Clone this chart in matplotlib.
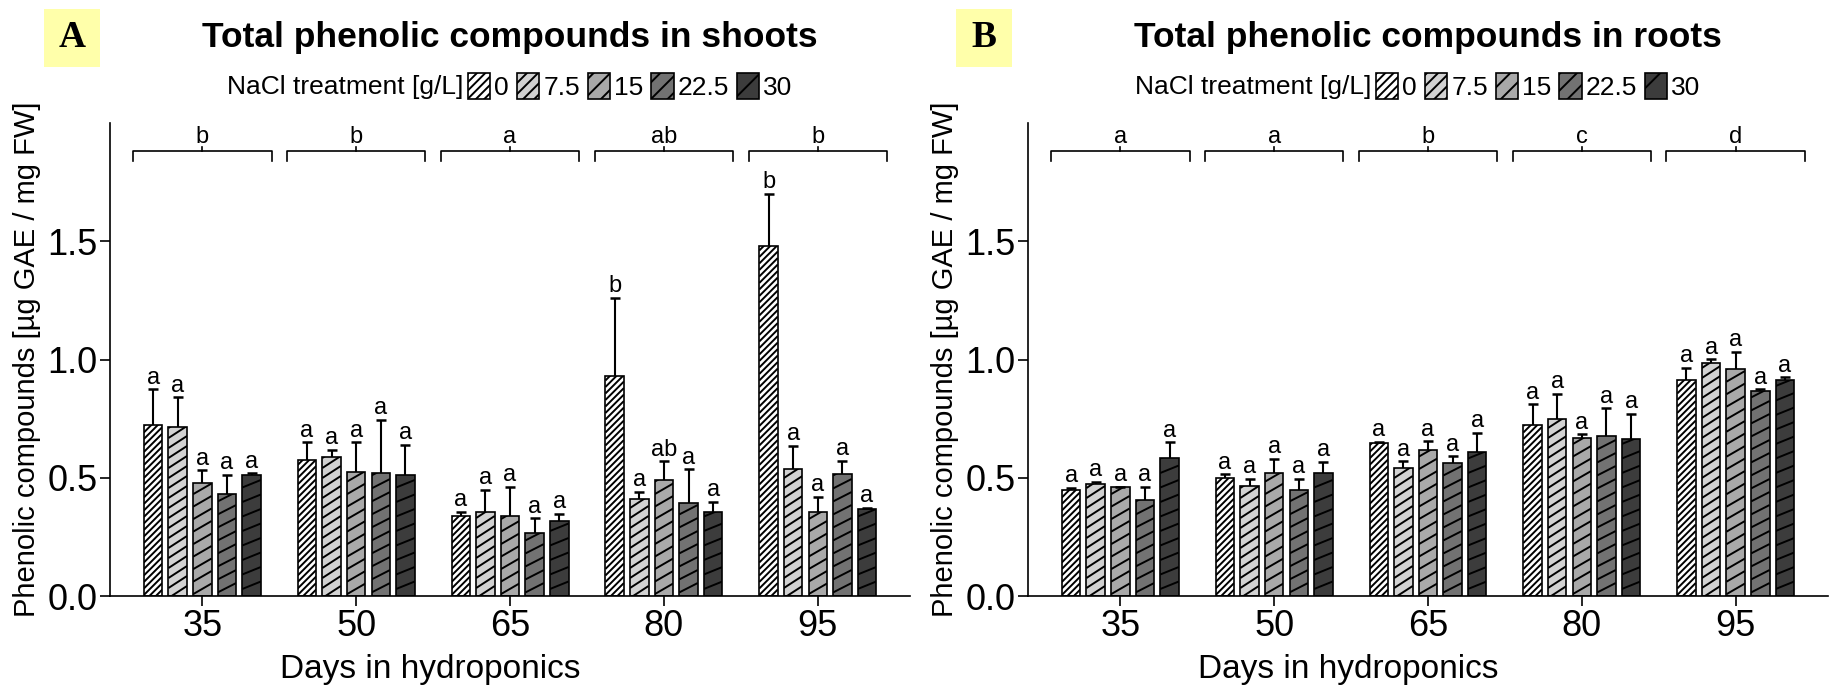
import numpy as np
import matplotlib.pyplot as plt
from matplotlib.patches import Rectangle
from matplotlib.collections import LineCollection

plt.rcParams['font.family'] = ['Liberation Sans', 'DejaVu Sans']
plt.rcParams['hatch.linewidth'] = 1.4

days = ["35", "50", "65", "80", "95"]
nacl = ["0", "7.5", "15", "22.5", "30"]

#? shoots: means and SD per NaCl level, over the five harvest days
shoot_mean = {
    "0":    [0.725, 0.576, 0.340, 0.930, 1.480],
    "7.5":  [0.713, 0.587, 0.357, 0.409, 0.536],
    "15":   [0.477, 0.525, 0.338, 0.491, 0.356],
    "22.5": [0.430, 0.522, 0.265, 0.394, 0.515],
    "30":   [0.512, 0.512, 0.316, 0.357, 0.369],
}
shoot_sd = {
    "0":    [0.149, 0.074, 0.015, 0.330, 0.220],
    "7.5":  [0.127, 0.031, 0.091, 0.032, 0.098],
    "15":   [0.055, 0.125, 0.123, 0.078, 0.064],
    "22.5": [0.082, 0.224, 0.063, 0.142, 0.056],
    "30":   [0.007, 0.128, 0.032, 0.042, 0.004],
}
shoot_letters = {
    "0":    ["a", "a", "a", "b", "b"],
    "7.5":  ["a", "a", "a", "a", "a"],
    "15":   ["a", "a", "a", "ab", "a"],
    "22.5": ["a", "a", "a", "a", "a"],
    "30":   ["a", "a", "a", "a", "a"],
}
shoot_day_letters = ["b", "b", "a", "ab", "b"]

#? roots
root_mean = {
    "0":    [0.448, 0.498, 0.645, 0.722, 0.915],
    "7.5":  [0.474, 0.465, 0.542, 0.750, 0.986],
    "15":   [0.460, 0.520, 0.617, 0.669, 0.962],
    "22.5": [0.406, 0.448, 0.563, 0.678, 0.865],
    "30":   [0.583, 0.520, 0.610, 0.663, 0.912],
}
root_sd = {
    "0":    [0.009, 0.017, 0.007, 0.089, 0.051],
    "7.5":  [0.010, 0.029, 0.027, 0.104, 0.015],
    "15":   [0.002, 0.059, 0.037, 0.015, 0.069],
    "22.5": [0.056, 0.046, 0.028, 0.115, 0.009],
    "30":   [0.067, 0.047, 0.079, 0.107, 0.013],
}
root_letters = {k: ["a"] * 5 for k in nacl}
root_day_letters = ["a", "a", "b", "c", "d"]

#* estilos por nivel de NaCl
colors = ["#ffffff", "#d2d2d2", "#a9a9a9", "#727272", "#3c3c3c"]
hatch_angle = [45, 33, 30, 27, 22]        #! grados
hatch_step = [6.5, 10, 12.5, 13, 14.5]   #! separacion vertical en px
legend_hatch = ["////", "///", "//", "//", "/"]

bar_w = 0.12
bar_step = 0.16
FIG_W, FIG_H = 1840, 688


def hatch_bar(ax, rect, angle, step):
    """Dibuja lineas inclinadas dentro de una barra (en espacio de pixeles)."""
    tr = ax.transData
    (x0, y0), (x1, y1) = tr.transform([(rect.get_x(), rect.get_y()),
                                       (rect.get_x() + rect.get_width(),
                                        rect.get_y() + rect.get_height())])
    w = x1 - x0
    rise = np.tan(np.radians(angle)) * w
    segs = []
    y = y0 - rise
    while y < y1:
        segs.append([(x0, y), (x1, y + rise)])
        y += step
    inv = tr.inverted()
    segs = [inv.transform(s) for s in segs]
    lc = LineCollection(segs, colors="black", linewidths=1.4, zorder=3)
    ax.add_collection(lc)
    lc.set_clip_path(rect)  #! despues de add_collection, si no se pisa el clip


def panel(ax, mean, sd, letters, day_letters, title, tag, tag_dx, leg_dx):
    x = np.arange(len(days))
    ax.set_xlim(-0.6, 4.6)
    ax.set_ylim(0, 2.0)
    for i, lvl in enumerate(nacl):
        xs = x + (i - 2) * bar_step
        bars = ax.bar(xs, mean[lvl], width=bar_w, color=colors[i],
                      edgecolor="black", linewidth=1.2, zorder=2)
        for rect in bars:
            hatch_bar(ax, rect, hatch_angle[i], hatch_step[i])
        tops = np.array(mean[lvl]) + np.array(sd[lvl])
        ax.vlines(xs, mean[lvl], tops, color="black", linewidth=1.5, zorder=4)
        ax.plot(xs, tops, ls="none", marker="_", ms=7, mew=1.8, color="black", zorder=4)
        for xi, t, lab in zip(xs, tops, letters[lvl]):
            ax.annotate(lab, (xi, t), xytext=(0, 0.5), textcoords="offset points",
                        ha="center", va="bottom", fontsize=17)

    #? corchetes por dia
    for xi, lab in zip(x, day_letters):
        ax.plot([xi - 0.45, xi - 0.45, xi + 0.45, xi + 0.45],
                [1.84, 1.88, 1.88, 1.84], color="black", lw=1.2, clip_on=False)
        ax.plot([xi, xi], [1.88, 1.90], color="black", lw=1.2, clip_on=False)
        ax.text(xi, 1.895, lab, ha="center", va="bottom", fontsize=17)

    ax.spines["top"].set_visible(False)
    ax.spines["right"].set_visible(False)
    ax.spines["left"].set_linewidth(1.2)
    ax.spines["bottom"].set_linewidth(1.2)
    ax.set_xticks(x)
    ax.set_xticklabels(days)
    ax.set_yticks([0, 0.5, 1.0, 1.5])
    ax.set_yticklabels(["0.0", "0.5", "1.0", "1.5"])
    ax.tick_params(labelsize=26, length=7, width=1.2, pad=2)
    ax.set_xlabel("Days in hydroponics", fontsize=24)
    ax.xaxis.set_label_coords(0.40, -0.122)
    ax.xaxis.label.set_va("top")
    ax.set_ylabel("Phenolic compounds [µg GAE / mg FW]", fontsize=21)
    ax.yaxis.set_label_coords(-0.086, 0.5)

    pos = ax.get_position()
    cx = pos.x0 + pos.width / 2
    fig.text(cx, 0.945, title, ha="center", va="center",
             fontsize=25.5, fontweight="bold")

    #? leyenda: texto + cajas, centradas juntas bajo el titulo
    ly = 0.874
    handles = [Rectangle((0, 0), 1, 1, facecolor=colors[i], edgecolor="black",
                         hatch=legend_hatch[i], linewidth=1.2) for i in range(5)]
    txt = fig.text(0, ly, "NaCl treatment [g/L]", ha="left", va="center", fontsize=19)
    leg = fig.legend(handles, nacl, loc="center left", bbox_to_anchor=(0, ly),
                     ncol=5, frameon=False, fontsize=19, handlelength=0.85,
                     handleheight=1.15, handletextpad=0.15, columnspacing=0.3,
                     borderpad=0, borderaxespad=0)
    rend = fig.canvas.get_renderer()
    wt = txt.get_window_extent(rend).width / FIG_W
    wl = leg.get_window_extent(rend).width / FIG_W
    gap = 4 / FIG_W
    x0 = cx + leg_dx / FIG_W - (wt + gap + wl) / 2
    txt.set_x(x0)
    leg.set_bbox_to_anchor((x0 + wt + gap, ly), transform=fig.transFigure)

    #? etiqueta del panel (caja amarilla)
    tx = pos.x0 + tag_dx / FIG_W
    bw, bh = 56 / FIG_W, 58 / FIG_H
    fig.patches.append(Rectangle((tx - bw / 2, 0.945 - bh / 2), bw, bh,
                                 transform=fig.transFigure, facecolor="#ffffaa",
                                 edgecolor="none"))
    fig.text(tx, 0.945, tag, ha="center", va="center", fontsize=27,
             fontweight="bold", family="Liberation Serif")


fig = plt.figure(figsize=(18.4, 6.88), dpi=100)
ax1 = fig.add_axes([0.0598, 0.1337, 0.4348, 0.6875])
ax2 = fig.add_axes([0.5587, 0.1337, 0.4348, 0.6875])

panel(ax1, shoot_mean, shoot_sd, shoot_letters, shoot_day_letters,
      "Total phenolic compounds in shoots", "A", -38, 0)
panel(ax2, root_mean, root_sd, root_letters, root_day_letters,
      "Total phenolic compounds in roots", "B", -44, -10)

fig.savefig("out.png", dpi=100)
